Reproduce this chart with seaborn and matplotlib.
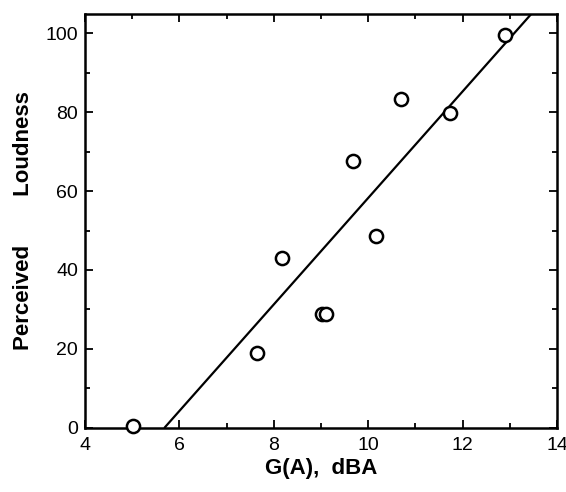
import numpy as np
import pandas as pd
import seaborn as sns
import matplotlib.pyplot as plt
from matplotlib.ticker import MultipleLocator

# punti
ga_dba = [5.02, 7.64, 8.18, 9.02, 9.10, 9.67, 10.17, 10.69, 11.74, 12.90]
loudness = [0.3, 18.8, 43.1, 28.8, 28.8, 67.6, 48.7, 83.4, 79.9, 99.7]

# retta di regressione (estremi)
fit_x = [5.69, 13.46]
fit_y = [0.0, 105.0]

df = pd.DataFrame({"G": ga_dba, "PL": loudness})
df_fit = pd.DataFrame({"G": fit_x, "PL": fit_y})

sns.set_style("ticks")
plt.rcParams['font.family'] = ['Liberation Sans', 'DejaVu Sans']

fig = plt.figure(figsize=(5.66, 4.92), dpi=100)
ax = fig.add_axes([0.150, 0.131, 0.834, 0.841])

sns.lineplot(data=df_fit, x="G", y="PL", color="black", linewidth=1.6, ax=ax)
sns.scatterplot(data=df, x="G", y="PL", marker="o", s=90, facecolor="white",
                edgecolor="black", linewidth=1.8, ax=ax, zorder=3, clip_on=False)

ax.set_xlim(4, 14)
ax.set_ylim(0, 105)
ax.xaxis.set_major_locator(MultipleLocator(2))
ax.xaxis.set_minor_locator(MultipleLocator(1))
ax.yaxis.set_major_locator(MultipleLocator(20))
ax.yaxis.set_minor_locator(MultipleLocator(10))
ax.tick_params(which="both", direction="in", top=True, right=True, colors="black",
               labelsize=14, width=1.3)
ax.tick_params(axis="x", which="major", pad=7)
ax.tick_params(axis="y", which="major", pad=5)
ax.tick_params(which="major", length=6)
ax.tick_params(which="minor", length=3.5)
for s in ax.spines.values():
    s.set_linewidth(1.8)
    s.set_color("black")

ax.set_xlabel("G(A),  dBA", fontsize=16, fontweight="bold", color="black", labelpad=3)
ax.set_ylabel("Perceived        Loudness", fontsize=16, fontweight="bold", color="black",
              labelpad=8)

plt.savefig("out.png", dpi=100)
